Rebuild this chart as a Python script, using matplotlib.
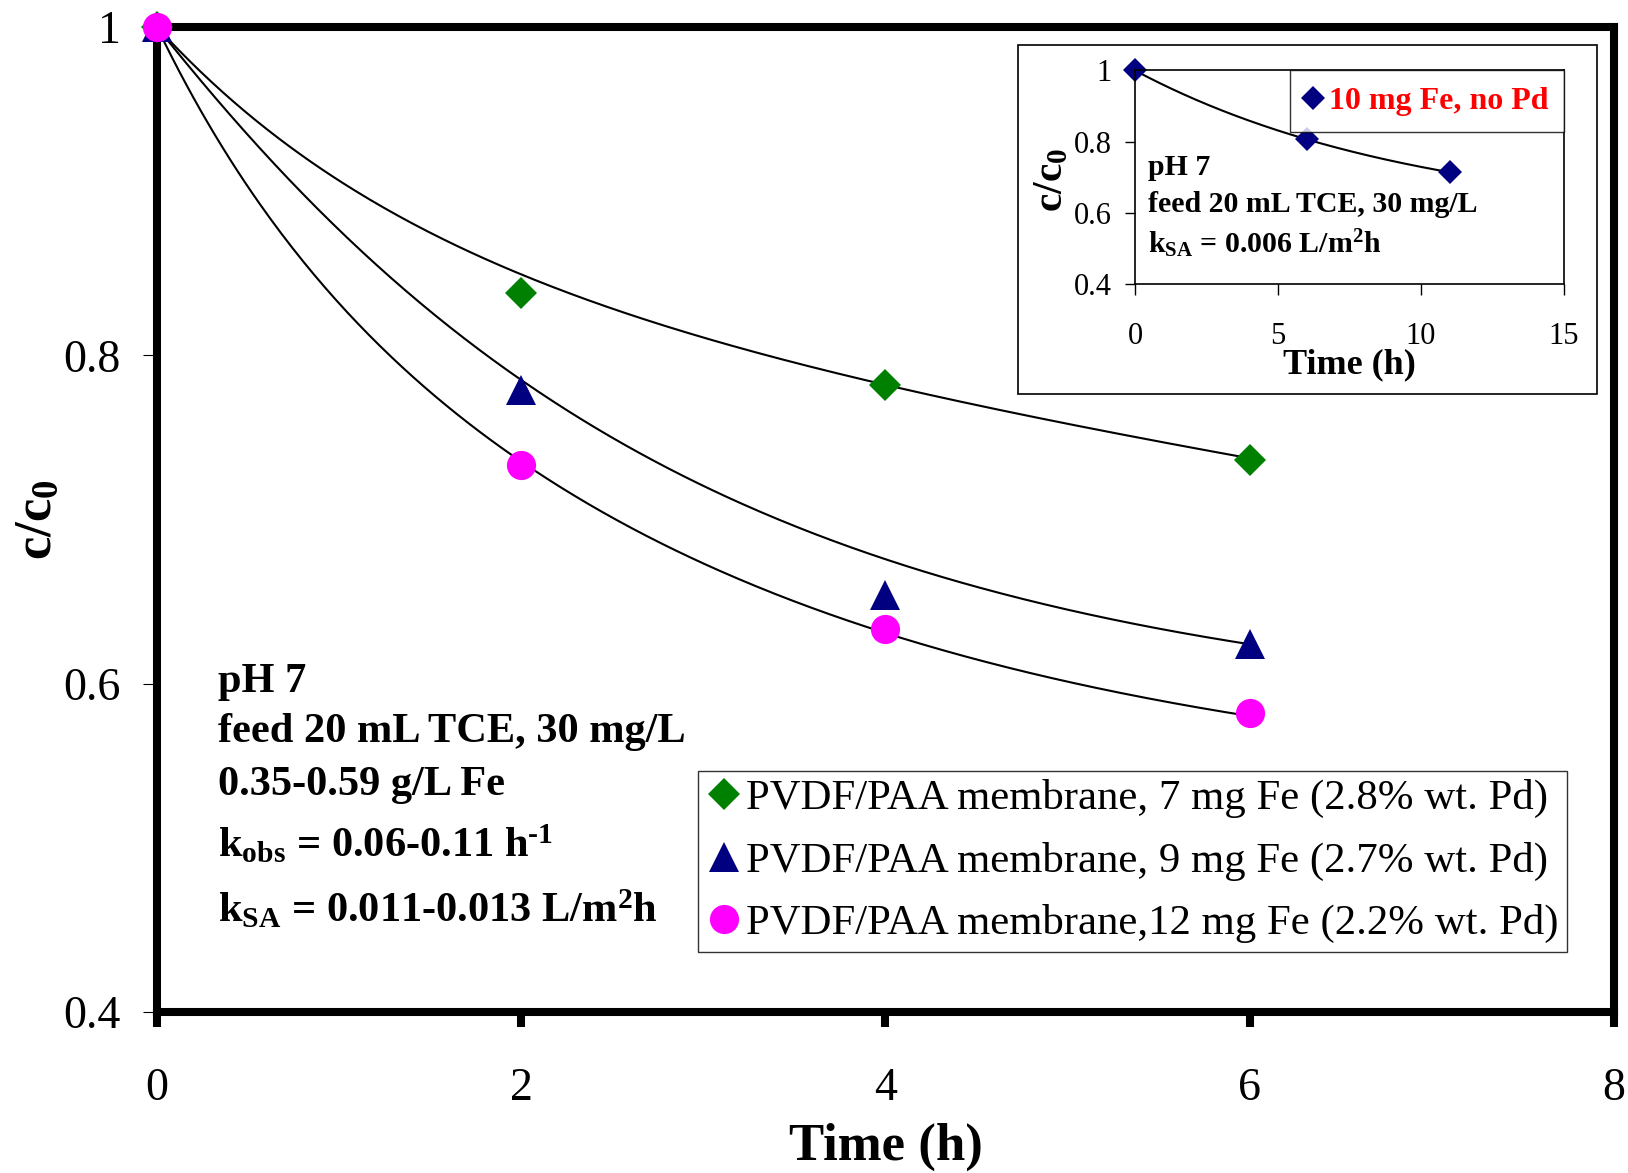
import itertools
import numpy as np
import matplotlib
matplotlib.use('Agg')
import matplotlib.pyplot as plt
from matplotlib.patches import Rectangle

plt.rcParams['font.family'] = 'Liberation Serif'
plt.rcParams['mathtext.fontset'] = 'custom'
plt.rcParams['mathtext.rm'] = 'Liberation Serif'
plt.rcParams['mathtext.bf'] = 'Liberation Serif:bold'
plt.rcParams['mathtext.it'] = 'Liberation Serif:italic'

# main plot data (time in h, c/c0)
time_h = [0, 2, 4, 6]
c_7mg = [1.0, 0.838, 0.782, 0.736]
c_9mg = [1.0, 0.779, 0.654, 0.624]
c_12mg = [1.0, 0.733, 0.633, 0.582]
labels = ['PVDF/PAA membrane, 7 mg Fe (2.8% wt. Pd)',
          'PVDF/PAA membrane, 9 mg Fe (2.7% wt. Pd)',
          'PVDF/PAA membrane,12 mg Fe (2.2% wt. Pd)']

# trend lines
trend_time = [0, 0.8, 1, 2, 3, 4, 5, 6]
trend_7mg = [1.0, 0.922, 0.908, 0.846, 0.812, 0.783, 0.758, 0.737]
trend_9mg = [1.0, 0.897, 0.878, 0.785, 0.720, 0.675, 0.647, 0.623]
trend_12mg = [1.0, 0.857, 0.833, 0.733, 0.675, 0.633, 0.597, 0.582]

# inset data
inset_time = [0, 6, 11]
inset_c = [1.0, 0.808, 0.714]

x_ticks = [0, 2, 4, 6, 8]
y_ticks = [0.4, 0.6, 0.8, 1.0]
y_ticklabels = ['0.4', '0.6', '0.8', '1']
inset_x_ticks = [0, 5, 10, 15]
inset_y_ticks = [0.4, 0.6, 0.8, 1.0]


def fit_trend(t, c, n_exp):
    # c = 1 - sum_i A_i (1 - exp(-k_i t)), least squares over a grid of k
    t = np.asarray(t, float)
    c = np.asarray(c, float)
    ks = np.linspace(0.02, 3, 150)
    best = None
    for combo in itertools.combinations(ks, n_exp):
        m = np.column_stack([1 - np.exp(-k * t) for k in combo])
        coef, *_ = np.linalg.lstsq(m, 1 - c, rcond=None)
        err = np.sum((m @ coef - (1 - c)) ** 2)
        if best is None or err < best[0]:
            best = (err, combo, coef)
    return best[1], best[2]


def trend_curve(t, c, n_exp, t_end=None):
    ks, coef = fit_trend(t, c, n_exp)
    tt = np.linspace(0, t_end if t_end else max(t), 300)
    cc = 1 - sum(a * (1 - np.exp(-k * tt)) for k, a in zip(ks, coef))
    return tt, cc


fig = plt.figure(figsize=(16.28, 11.73), dpi=100)
ax = fig.add_axes([0.0964, 0.1373, 0.895, 0.8397])

for tr in [trend_7mg, trend_9mg, trend_12mg]:
    tt, cc = trend_curve(trend_time, tr, 2)
    ax.plot(tt, cc, color='black', lw=1.5, zorder=2)

series = [(c_7mg, 'D', '#008000', 16), (c_9mg, '^', '#000080', 21),
          (c_12mg, 'o', '#FF00FF', 21)]
for i, (vals, mk, col, ms) in enumerate(series):
    ax.plot(time_h, vals, linestyle='none', marker=mk, color=col, ms=ms,
            markeredgewidth=0, label=labels[i], clip_on=False, zorder=5 + i)

ax.set_xlim(0, 8)
ax.set_ylim(0.4, 1.0)
ax.set_xticks(x_ticks)
ax.set_xticklabels([str(v) for v in x_ticks])
ax.set_yticks(y_ticks)
ax.set_yticklabels(y_ticklabels)
for sp in ax.spines.values():
    sp.set_linewidth(5.8)
    sp.set_color('black')
    sp.set_capstyle('projecting')
ax.tick_params(axis='x', direction='out', length=11, width=5.8, pad=29, labelsize=33)
ax.tick_params(axis='y', direction='out', length=10, width=0.8, pad=16, labelsize=33)

ax.set_xlabel('Time (h)', fontsize=38, fontweight='bold')
ax.xaxis.set_label_coords(0.5, -0.112)
ax.set_ylabel(r'c/c$_\mathbf{0}$', fontsize=38, fontweight='bold')
ax.yaxis.set_label_coords(-0.065, 0.5)

txt_kw = dict(fontsize=30.5, fontweight='bold', va='baseline', ha='left')
ax.text(0.335, 0.595, 'pH 7', **txt_kw)
ax.text(0.335, 0.5645, 'feed 20 mL TCE, 30 mg/L', **txt_kw)
ax.text(0.335, 0.532, '0.35-0.59 g/L Fe', **txt_kw)
ax.text(0.335, 0.4944, 'k$_{\\mathbf{obs}}$ = 0.06-0.11 h$^{\\mathbf{\u20101}}$', **txt_kw)
ax.text(0.335, 0.4548, r'k$_{\mathbf{SA}}$ = 0.011-0.013 L/m$^{\mathbf{2}}$h', **txt_kw)

leg = ax.legend(loc='lower right', bbox_to_anchor=(0.968, 0.061), fontsize=30.8,
                frameon=True, fancybox=False, edgecolor='black', borderaxespad=0,
                numpoints=1, handlelength=0.8, handletextpad=0.13,
                labelspacing=0.55, borderpad=0.2)
leg.get_frame().set_linewidth(1.0)

# inset frame
box = Rectangle((1017.5 / 1628, 1 - 393.5 / 1173), (1597 - 1017.5) / 1628,
                (393.5 - 44.6) / 1173, transform=fig.transFigure,
                facecolor='white', edgecolor='black', lw=1.2, zorder=2)
fig.add_artist(box)

ins = fig.add_axes([0.6972, 0.7575, 0.2635, 0.1824])
ins.set_zorder(3)
tt, cc = trend_curve(inset_time, inset_c, 1, t_end=11.3)
ins.plot(tt, cc, color='black', lw=1.5)
ins.plot(inset_time, inset_c, linestyle='none', marker='D', color='#000080', ms=12.5,
         markeredgewidth=0, label='10 mg Fe, no Pd', clip_on=False)
ins.set_xlim(0, 15)
ins.set_ylim(0.4, 1.0)
ins.set_xticks(inset_x_ticks)
ins.set_xticklabels([str(v) for v in inset_x_ticks])
ins.set_yticks(inset_y_ticks)
ins.set_yticklabels(y_ticklabels)
for sp in ins.spines.values():
    sp.set_linewidth(1.2)
ins.tick_params(axis='x', direction='out', length=8, width=1, pad=19, labelsize=22)
ins.tick_params(axis='y', direction='out', length=7, width=1, pad=10, labelsize=22)
ins.set_xlabel('Time (h)', fontsize=26, fontweight='bold')
ins.xaxis.set_label_coords(0.5, -0.30)
ins.set_ylabel(r'c/c$_\mathbf{0}$', fontsize=30, fontweight='bold')
ins.yaxis.set_label_coords(-0.149, 0.491)

ikw = dict(fontsize=21.5, fontweight='bold', va='baseline', ha='left')
ins.text(0.45, 0.707, 'pH 7', **ikw)
ins.text(0.45, 0.603, 'feed 20 mL TCE, 30 mg/L', **ikw)
ins.text(0.45, 0.488, r'k$_{\mathbf{SA}}$ = 0.006 L/m$^{\mathbf{2}}$h', **ikw)

ileg = ins.legend(loc='upper right', bbox_to_anchor=(1, 1), borderaxespad=0,
                  prop={'size': 23, 'weight': 'bold'}, frameon=True, fancybox=False,
                  edgecolor='black', numpoints=1, handlelength=0.45,
                  handletextpad=0.25, borderpad=0.5)
ileg.get_frame().set_linewidth(1.0)
for t in ileg.get_texts():
    t.set_color('#FF0000')

fig.savefig('out.png', dpi=100)
